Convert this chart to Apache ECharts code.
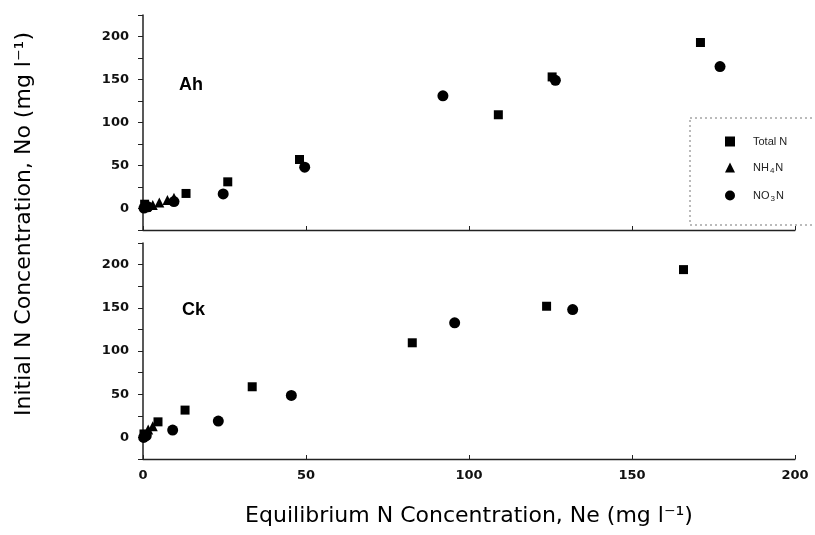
<!DOCTYPE html>
<html>
<head>
<meta charset="utf-8">
<script src="https://cdn.jsdelivr.net/npm/echarts@6/dist/echarts.min.js"></script>
<style>html,body{margin:0;padding:0;background:#fff}#c{width:815px;height:535px}</style>
</head>
<body>
<div id="c"></div>
<script>
// ---- data (Ne, No) ----
const seriesNames = ['Total N', 'NH4N', 'NO3N'];
const ahTotal = [[0.5,5],[13.2,17.5],[26,31],[48,57],[109,109],[125.5,153],[171,193]];
const ahNH4   = [[1,2],[3,4],[5,7],[7.5,10],[9.5,12.5]];
const ahNO3   = [[0.3,0.5],[1.5,2],[9.5,8],[24.6,17],[49.6,48],[92,131],[126.5,149],[177,165]];
const ckTotal = [[0.3,4],[4.6,18],[12.9,31.6],[33.5,58.6],[82.6,109.5],[123.8,151.8],[165.8,194.2]];
const ckNH4   = [[0.3,3.5],[1.6,9],[3,13]];
const ckNO3   = [[0.2,0],[1,2],[9.1,8.5],[23.1,18.9],[45.5,48.6],[95.6,132.6],[131.8,148]];
const panelLabels = ['Ah', 'Ck'];
const xTickLabels = [0, 50, 100, 150, 200];
const yTickLabels = [0, 50, 100, 150, 200];
const xTitle = 'Equilibrium N Concentration, Ne (mg l\u207B\u00B9)';
const yTitle = 'Initial N Concentration, No (mg l\u207B\u00B9)';

const chart = echarts.init(document.getElementById('c'), null, {renderer: 'canvas'});
const FONT = 'Liberation Sans';
const TICKFONT = 'DejaVu Sans';
const symbols = ['rect', 'triangle', 'circle'];
const sizes = [9, 10, 11];

function xAxis(idx, showLabels) {
  return {
    type: 'value', gridIndex: idx, min: 0, max: 200, interval: 50,
    axisLine: {show: true, onZero: false, lineStyle: {color: '#222', width: 1.3}},
    axisTick: {show: true, inside: true, length: 4, lineStyle: {color: '#222'}},
    axisLabel: {show: showLabels, margin: 10, color: '#111', fontFamily: TICKFONT, fontWeight: 'bold', fontSize: 13,
      formatter: v => xTickLabels.indexOf(v) >= 0 ? String(v) : ''},
    splitLine: {show: false}
  };
}
function yAxis(idx) {
  return {
    type: 'value', gridIndex: idx, min: -25, max: 225, interval: 25,
    axisLine: {show: true, onZero: false, lineStyle: {color: '#222', width: 1.5}},
    axisTick: {show: true, inside: false, length: 5, lineStyle: {color: '#222'}},
    axisLabel: {margin: 14, color: '#111', fontFamily: TICKFONT, fontWeight: 'bold', fontSize: 13,
      formatter: v => yTickLabels.indexOf(v) >= 0 ? String(v) : ''},
    splitLine: {show: false}
  };
}
function mk(name, i, g, data) {
  return {
    name: name, type: 'scatter', xAxisIndex: g, yAxisIndex: g, data: data,
    symbol: symbols[i], symbolSize: sizes[i],
    itemStyle: {color: '#000', opacity: 1}, z: 3
  };
}

const sub = {fontSize: 8, fontFamily: FONT, color: '#222', padding: [7, 1, 0, 1]};
chart.setOption({
  animation: false,
  backgroundColor: '#fff',
  grid: [
    {left: 143, top: 15, width: 652, height: 215},
    {left: 143, top: 243, width: 652, height: 216}
  ],
  xAxis: [xAxis(0, false), xAxis(1, true)],
  yAxis: [yAxis(0), yAxis(1)],
  legend: {
    orient: 'vertical', left: 720, top: 131, itemGap: 15,
    itemWidth: 10, itemHeight: 10,
    data: seriesNames.map(n => ({name: n, itemStyle: {opacity: 1, color: '#000'}})),
    textStyle: {fontFamily: FONT, fontSize: 11, color: '#222', padding: [0, 0, 0, 13], rich: {s: sub}},
    formatter: n => n === 'NH4N' ? 'NH{s|4}N' : (n === 'NO3N' ? 'NO{s|3}N' : n)
  },
  graphic: [
    {type: 'rect', shape: {x: 690, y: 118, width: 140, height: 107},
      style: {fill: 'none', stroke: '#777', lineWidth: 1, lineDash: [2, 3]}},
    {type: 'text', x: 179, y: 85, style: {text: panelLabels[0], font: 'bold 18px ' + FONT, fill: '#000', verticalAlign: 'middle'}},
    {type: 'text', x: 182, y: 310, style: {text: panelLabels[1], font: 'bold 18px ' + FONT, fill: '#000', verticalAlign: 'middle'}},
    {type: 'text', x: 469, y: 516, style: {text: xTitle, font: '22px DejaVu Sans', fill: '#000', align: 'center', verticalAlign: 'middle'}},
    {type: 'text', x: 24, y: 224, rotation: Math.PI / 2,
      style: {text: yTitle, font: '22px DejaVu Sans', fill: '#000', align: 'center', verticalAlign: 'middle'}}
  ],
  series: [
    mk(seriesNames[0], 0, 0, ahTotal),
    mk(seriesNames[1], 1, 0, ahNH4),
    mk(seriesNames[2], 2, 0, ahNO3),
    mk(seriesNames[0], 0, 1, ckTotal),
    mk(seriesNames[1], 1, 1, ckNH4),
    mk(seriesNames[2], 2, 1, ckNO3)
  ]
});
</script>
</body>
</html>
